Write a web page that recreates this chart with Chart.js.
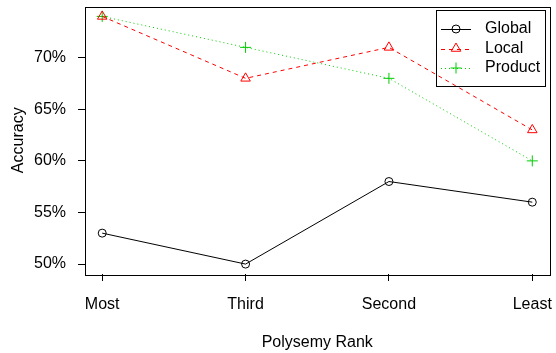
<!DOCTYPE html>
<html>
<head>
<meta charset="utf-8">
<script src="https://cdn.jsdelivr.net/npm/chart.js@4/dist/chart.umd.min.js"></script>
<style>
html,body{margin:0;padding:0;background:#fff;}
#wrap{width:556px;height:353px;position:relative;}
</style>
</head>
<body>
<div id="wrap"><canvas id="c" width="556" height="353"></canvas></div>
<script>
const categories = ["Most", "Third", "Second", "Least"];
const globalAcc = [53, 50, 58, 56];
const localAcc = [74, 68, 71, 63];
const productAcc = [74, 71, 68, 60];
const yTicks = [50, 55, 60, 65, 70];

const FONT = "'Liberation Sans', Arial, Helvetica, sans-serif";
const FS = 16;

function pts(arr){ return arr.map((v,i)=>({x:i+1,y:v})); }

const allVals = globalAcc.concat(localAcc, productAcc);
const dmin = Math.min(...allVals), dmax = Math.max(...allVals);
const ypad = (dmax - dmin) * 0.04;
const xpad = (categories.length - 1) * 0.04;

function zeroPad(s){ s.paddingTop = 0; s.paddingBottom = 0; s.paddingLeft = 0; s.paddingRight = 0; }

const boxPlugin = {
  id: 'boxPlugin',
  afterDraw(chart){
    const ctx = chart.ctx, a = chart.chartArea;
    ctx.save();
    ctx.strokeStyle = '#000'; ctx.lineWidth = 1;
    ctx.strokeRect(Math.round(a.left)+0.5, Math.round(a.top)+0.5, Math.round(a.right-a.left), Math.round(a.bottom-a.top));
    // legend (transparent background)
    const lx = 436.5, ly = 10.5, lw = 109, lh = 76;
    ctx.strokeRect(lx, ly, lw, lh);
    chart.data.datasets.forEach((ds, i) => {
      const y = 29 + i*19.5;
      ctx.save();
      ctx.strokeStyle = ds.borderColor;
      ctx.lineWidth = 1;
      ctx.setLineDash(ds.borderDash || []);
      ctx.beginPath(); ctx.moveTo(441, Math.round(y)+0.5); ctx.lineTo(471, Math.round(y)+0.5); ctx.stroke();
      ctx.setLineDash([]);
      ctx.strokeStyle = ds.borderColor; ctx.fillStyle = 'rgba(0,0,0,0)';
      Chart.helpers.drawPoint(ctx, {pointStyle: ds.pointStyle, radius: ds.pointRadius, borderWidth: 1, rotation: 0}, 456, y);
      ctx.restore();
      ctx.fillStyle = '#000';
      ctx.font = FS + 'px ' + FONT;
      ctx.textAlign = 'left'; ctx.textBaseline = 'middle';
      ctx.fillText(ds.label, 485, y);
    });
    ctx.restore();
  }
};

new Chart(document.getElementById('c'), {
  type: 'line',
  data: {
    datasets: [
      {label: 'Global', data: pts(globalAcc), borderColor: '#000000', backgroundColor: 'rgba(0,0,0,0)',
       borderWidth: 1, pointStyle: 'circle', pointRadius: 4, pointBorderColor: '#000000', pointBackgroundColor: 'rgba(0,0,0,0)', pointBorderWidth: 1},
      {label: 'Local', data: pts(localAcc), borderColor: '#FF0000', backgroundColor: 'rgba(0,0,0,0)',
       borderWidth: 1, borderDash: [4,4], pointStyle: 'triangle', pointRadius: 5.5, pointBorderColor: '#FF0000', pointBackgroundColor: 'rgba(0,0,0,0)', pointBorderWidth: 1},
      {label: 'Product', data: pts(productAcc), borderColor: '#00CD00', backgroundColor: 'rgba(0,0,0,0)',
       borderWidth: 1, borderDash: [1,3], pointStyle: 'cross', pointRadius: 5.5, pointBorderColor: '#00CD00', pointBackgroundColor: 'rgba(0,0,0,0)', pointBorderWidth: 1}
    ]
  },
  options: {
    responsive: false,
    animation: false,
    devicePixelRatio: 1,
    layout: {padding: {top: 4, right: 2, left: 0, bottom: 0}},
    plugins: {legend: {display: false}, tooltip: {enabled: false}},
    scales: {
      x: {
        type: 'linear',
        min: 1 - xpad, max: categories.length + xpad,
        afterFit(s){ s.height = 79; zeroPad(s); },
        afterBuildTicks(s){ s.ticks = categories.map((c,i)=>({value:i+1})); },
        grid: {drawOnChartArea: false, drawTicks: true, tickLength: 7, color: '#000', tickColor: '#000'},
        border: {display: false},
        ticks: {color: '#000', font: {family: FONT, size: FS}, padding: 14, maxRotation: 0, autoSkip: false,
          callback: (v) => categories[Math.round(v)-1]},
        title: {display: true, text: 'Polysemy Rank', color: '#000', font: {family: FONT, size: FS}, padding: {top: 4, bottom: 1}}
      },
      y: {
        type: 'linear',
        min: dmin - ypad, max: dmax + ypad,
        afterFit(s){ s.width = 85; zeroPad(s); },
        afterBuildTicks(s){ s.ticks = yTicks.map(v=>({value:v})); },
        grid: {drawOnChartArea: false, drawTicks: true, tickLength: 7, color: '#000', tickColor: '#000'},
        border: {display: false},
        ticks: {color: '#000', font: {family: FONT, size: FS}, padding: 12, autoSkip: false,
          callback: (v) => v + '%'},
        title: {display: true, text: 'Accuracy', color: '#000', font: {family: FONT, size: FS}, padding: {top: 9, bottom: 0}}
      }
    }
  },
  plugins: [boxPlugin]
});
</script>
</body>
</html>
